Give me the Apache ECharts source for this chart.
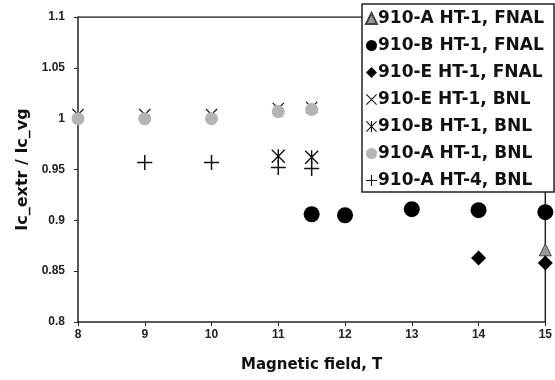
<!DOCTYPE html>
<html>
<head>
<meta charset="utf-8">
<script src="https://cdn.jsdelivr.net/npm/echarts@6/dist/echarts.min.js"></script>
<style>
  html, body { margin: 0; padding: 0; background: #fff; }
  #chart { width: 555px; height: 380px; }
</style>
</head>
<body>
<div id="chart"></div>
<script>
// 数据
const seriesNames = [
  '910-A HT-1, FNAL',
  '910-B HT-1, FNAL',
  '910-E HT-1, FNAL',
  '910-E HT-1, BNL',
  '910-B HT-1, BNL',
  '910-A HT-1, BNL',
  '910-A HT-4, BNL'
];
const aFnal = [[15, 0.871]];
const bFnal = [[11.5, 0.906], [12, 0.905], [13, 0.911], [14, 0.910], [15, 0.908]];
const eFnal = [[14, 0.863], [15, 0.858]];
const eBnl = [[8, 1.004], [9, 1.004], [10, 1.004], [11, 1.010], [11.5, 1.011]];
const bBnl = [[11, 0.963], [11.5, 0.962]];
const aBnl = [[8, 1.0], [9, 1.0], [10, 1.0], [11, 1.007], [11.5, 1.009]];
const aHt4 = [[9, 0.957], [10, 0.957], [11, 0.952], [11.5, 0.951]];

// 符号
const crossPath = 'path://M-10,-8.6 L-8.6,-10 L10,8.6 L8.6,10 Z M8.6,-10 L10,-8.6 L-8.6,10 L-10,8.6 Z';
const starPath = crossPath.replace('path://', 'path://M-1,-10 L1,-10 L1,10 L-1,10 Z ');
const plusPath = 'path://M-1,-10 L1,-10 L1,10 L-1,10 Z M-10,-1 L10,-1 L10,1 L-10,1 Z';

const font = 'Arial, "Liberation Sans", sans-serif';
const wideFont = '"DejaVu Sans", Arial, sans-serif';

let myChart = echarts.init(document.getElementById('chart'));

function mk(name, data, symbol, size, color, extra) {
  return Object.assign({
    name: name,
    type: 'scatter',
    data: data,
    symbol: symbol,
    symbolSize: size,
    itemStyle: { color: color, opacity: 1 },
    z: 2
  }, extra || {});
}

myChart.setOption({
  animation: false,
  backgroundColor: '#fff',
  grid: { left: 78, right: 9, top: 17, bottom: 58 },
  legend: {
    orient: 'vertical',
    left: 362,
    top: 4,
    width: 192,
    padding: [6, 10, 3, 3],
    itemGap: 10,
    itemWidth: 11,
    itemHeight: 11,
    backgroundColor: '#fff',
    borderColor: '#222',
    borderWidth: 1.5,
    textStyle: { fontFamily: wideFont, fontWeight: 'bold', fontSize: 17, lineHeight: 17, color: '#111', padding: [0, 0, 0, -4] },
    data: seriesNames
  },
  xAxis: {
    type: 'value',
    min: 8, max: 15, interval: 1,
    name: 'Magnetic field, T',
    nameLocation: 'middle',
    nameGap: 36,
    nameTextStyle: { fontFamily: wideFont, fontWeight: 'bold', fontSize: 15, color: '#111' },
    axisLine: { lineStyle: { color: '#222', width: 1.5 } },
    axisTick: { lineStyle: { color: '#222' }, length: 4 },
    axisLabel: { fontFamily: font, fontWeight: 'bold', fontSize: 12, color: '#222', margin: 7 },
    splitLine: { show: false }
  },
  yAxis: {
    type: 'value',
    min: 0.8, max: 1.1, interval: 0.05,
    name: 'Ic_extr / Ic_vg',
    nameLocation: 'middle',
    nameGap: 47,
    nameTextStyle: { fontFamily: wideFont, fontWeight: 'bold', fontSize: 16, color: '#111' },
    axisLine: { lineStyle: { color: '#222', width: 1.5 } },
    axisTick: { lineStyle: { color: '#222' }, length: 4 },
    axisLabel: { fontFamily: font, fontWeight: 'bold', fontSize: 12, color: '#222', margin: 13 },
    splitLine: { show: false }
  },
  series: [
    mk(seriesNames[0], aFnal, 'triangle', 12, '#999', { itemStyle: { color: '#999', borderColor: '#444', borderWidth: 1, opacity: 1 } }),
    mk(seriesNames[1], bFnal, 'circle', 16, '#000'),
    mk(seriesNames[2], eFnal, 'diamond', 15, '#000'),
    mk(seriesNames[3], eBnl, crossPath, 12, '#111', { z: 1 }),
    mk(seriesNames[4], bBnl, starPath, 14, '#111'),
    mk(seriesNames[5], aBnl, 'circle', 13, '#b4b4b4'),
    mk(seriesNames[6], aHt4, plusPath, 15, '#111'),
    // 图框上边与右边
    {
      type: 'line', silent: true, symbol: 'none', legendHoverLink: false,
      data: [[8, 1.1], [15, 1.1], [15, 0.8]],
      lineStyle: { color: '#222', width: 1.5 },
      z: 0
    }
  ]
});
</script>
</body>
</html>
